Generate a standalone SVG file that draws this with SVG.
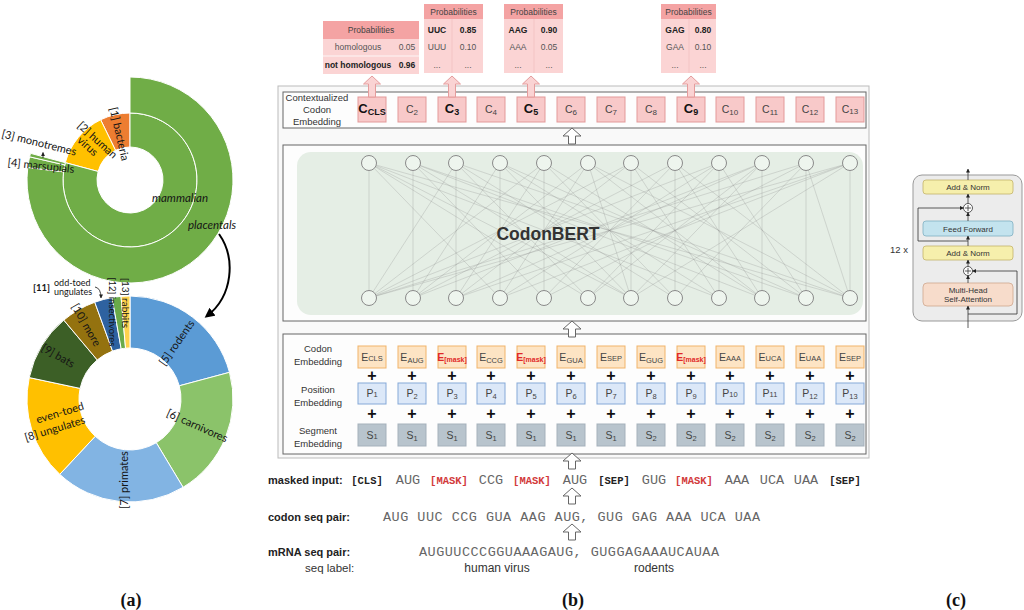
<svg xmlns="http://www.w3.org/2000/svg" width="1024" height="610" viewBox="0 0 1024 610">
<defs>
<style>
text{font-family:"Liberation Sans",Arial,sans-serif;fill:#333}
.ph{font-size:8.5px;text-anchor:middle;fill:#444}
.pr{font-size:8.5px;text-anchor:middle;fill:#555}
.pb{font-size:8.5px;text-anchor:middle;font-weight:bold;fill:#222}
.rl{font-size:9.5px;text-anchor:middle;fill:#333}
.cb{fill:#f8c9c9;stroke:#e39999;stroke-width:1}
.eb{fill:#fde4c4;stroke:#f1b46a;stroke-width:1}
.pbx{fill:#dce8f8;stroke:#86a9d8;stroke-width:1}
.sb{fill:#b8c4cd;stroke:#a5b1bb;stroke-width:1}
.bt{font-size:10.5px;text-anchor:middle;fill:#444}
.btb{font-size:13px;text-anchor:middle;fill:#111;font-weight:bold}
.em{font-size:10.5px;text-anchor:middle;fill:#e02828;font-weight:bold}
.plus{font-size:16px;font-weight:bold;text-anchor:middle;fill:#111}
.harrow{fill:#fff;stroke:#666;stroke-width:1}
.parrow{fill:#fad3d3;stroke:#e59c9c;stroke-width:1}
.frame{fill:#fdfdfd;stroke:#666;stroke-width:1}
.tok{font-family:"Liberation Mono","Courier New",monospace;font-size:10.5px;font-weight:bold;text-anchor:middle;fill:#222}
.tokm{font-family:"Liberation Mono","Courier New",monospace;font-size:10.5px;font-weight:bold;text-anchor:middle;fill:#d23a3a}
.cod{font-family:"Liberation Mono","Courier New",monospace;font-size:13.5px;text-anchor:middle;fill:#666}
.seq{font-family:"Liberation Mono","Courier New",monospace;font-size:13.5px;fill:#666}
.sl{font-size:11px;font-weight:bold;fill:#222}
.pa{font-family:Lato,"Open Sans",sans-serif;font-size:11px;fill:#151515;text-anchor:middle}
.cap{font-family:"Liberation Serif",serif;font-size:18px;font-weight:bold;text-anchor:middle;fill:#111}
.ct{font-size:8px;text-anchor:middle;fill:#333}
.net{stroke:#8c8c8c;stroke-width:0.6;opacity:0.45;fill:none}
.nd{fill:#eef5ee;stroke:#8a8a8a;stroke-width:1}
.seg{stroke:#fff;stroke-width:1}
</style>
<path id="ha" d="M0 0L9 8L3.5 8L3.5 16L-3.5 16L-3.5 8L-9 8Z"/>
<path id="pa" d="M0 0L8.5 8L3.5 8L3.5 21L-3.5 21L-3.5 8L-8.5 8Z"/>
<marker id="blk" viewBox="0 0 10 10" refX="7" refY="5" markerWidth="5" markerHeight="5" orient="auto"><path d="M0,0L10,5L0,10z" fill="#000"/></marker>
<marker id="sm" viewBox="0 0 10 10" refX="9" refY="5" markerWidth="4" markerHeight="4" markerUnits="userSpaceOnUse" orient="auto"><path d="M0,0L10,5L0,10z" fill="#222"/></marker>
</defs>
<rect width="1024" height="610" fill="#fff"/>

<!-- Panel (a) -->
<g id="panel-a-top">
<path class="seg" fill="#ed7d31" d="M130,113A67,67 0 0 0 100.63,119.78L115.53,150.34A33,33 0 0 1 130,147Z"/>
<path class="seg" fill="#ffc000" d="M100.63,119.78A67,67 0 0 0 65.28,162.66L98.13,171.46A33,33 0 0 1 115.53,150.34Z"/>
<path class="seg" fill="#70ad47" d="M130,113A67,67 0 1 1 65.28,162.66L98.13,171.46A33,33 0 1 0 130,147Z"/>
<path class="seg" fill="#70ad47" d="M130,77A103,103 0 1 1 27.77,167.45L63.5,171.83A67,67 0 1 0 130,113Z"/>
<path class="seg" fill="#70ad47" d="M27.77,167.45A103,103 0 0 1 29.64,156.82L64.72,164.92A67,67 0 0 0 63.5,171.83Z"/>
<path class="seg" fill="#70ad47" d="M29.64,156.82A103,103 0 0 1 30.51,153.34L65.28,162.66A67,67 0 0 0 64.72,164.92Z"/>
<text class="pa" transform="translate(119,134) rotate(77)" dy="3.5">[1] bacteria</text>
<text class="pa" transform="translate(92,143) rotate(42)"><tspan x="2" y="-2">[2] human</tspan><tspan x="-1" y="9">virus</tspan></text>
<text class="pa" transform="translate(39,143) rotate(14)" dy="3.5">[3] monotremes</text>
<path d="M43,158L43,152.5" stroke="#111" stroke-width="0.8" marker-end="url(#sm)"/>
<text class="pa" transform="translate(41,166) rotate(6)" dy="3.5">[4] marsupials</text>
<text class="pa" x="180" y="202" style="font-style:italic;font-size:11.5px">mammalian</text>
<text class="pa" x="212" y="229" style="font-style:italic;font-size:11.5px">placentals</text>
</g>
<g id="panel-a-bottom">
<path class="seg" fill="#5b9bd5" d="M130,296A103,103 0 0 1 229.49,372.34L179.26,385.8A51,51 0 0 0 130,348Z"/>
<path class="seg" fill="#8bc36a" d="M229.49,372.34A103,103 0 0 1 183.05,487.29L156.27,442.72A51,51 0 0 0 179.26,385.8Z"/>
<path class="seg" fill="#82b4e3" d="M183.05,487.29A103,103 0 0 1 59.75,474.33L95.22,436.3A51,51 0 0 0 156.27,442.72Z"/>
<path class="seg" fill="#ffc000" d="M59.75,474.33A103,103 0 0 1 29.26,377.59L80.12,388.4A51,51 0 0 0 95.22,436.3Z"/>
<path class="seg" fill="#3c5f26" d="M29.26,377.59A103,103 0 0 1 63.79,320.1L97.22,359.93A51,51 0 0 0 80.12,388.4Z"/>
<path class="seg" fill="#94720f" d="M63.79,320.1A103,103 0 0 1 94.77,302.21L112.56,351.08A51,51 0 0 0 97.22,359.93Z"/>
<path class="seg" fill="#2e62a0" d="M94.77,302.21A103,103 0 0 1 112.12,297.57L121.15,348.78A51,51 0 0 0 112.56,351.08Z"/>
<path class="seg" fill="#6aaa4a" d="M112.12,297.57A103,103 0 0 1 121.02,296.39L125.55,348.19A51,51 0 0 0 121.15,348.78Z"/>
<path class="seg" fill="#ffd24d" d="M121.02,296.39A103,103 0 0 1 130,296L130,348A51,51 0 0 0 125.55,348.19Z"/>
<text class="pa" transform="translate(177,343) rotate(-55)" dy="3.5">[5] rodents</text>
<text class="pa" transform="translate(197,426) rotate(24)" dy="3.5">[6] carnivores</text>
<text class="pa" transform="translate(124,480) rotate(-90)" dy="3.5">[7] primates</text>
<text class="pa" transform="translate(60,413) rotate(-17)" dy="3.5">even-toed</text>
<text class="pa" transform="translate(55,429) rotate(-17)" dy="3.5">[8] ungulates</text>
<text class="pa" transform="translate(58,356) rotate(30)" dy="3.5">[9] bats</text>
<text class="pa" transform="translate(86,325) rotate(60)" dy="3.5">[10] more</text>
<text class="pa" x="33" y="291" style="text-anchor:start;font-size:9.5px;font-weight:bold">[11]</text>
<text class="pa" x="54" y="286" style="text-anchor:start;font-size:9px">odd-toed</text>
<text class="pa" x="54" y="295" style="text-anchor:start;font-size:9px">ungulates</text>
<path d="M95,287Q101,288 101,298" fill="none" stroke="#111" stroke-width="0.8" marker-end="url(#sm)"/>
<text class="pa" transform="translate(112,312) rotate(90)" dy="3.3" style="font-size:9.5px">[12] insectivores</text>
<text class="pa" transform="translate(125,303) rotate(90)" dy="3.5" style="font-size:10px">[13] rabbits</text>
</g>
<g id="connector-a">
<path d="M219,234C236,258 233,296 207,316" fill="none" stroke="#000" stroke-width="2" marker-end="url(#blk)"/>
</g>

<!-- Panel (b) -->
<g id="outer-frame"><rect x="278" y="86" width="591" height="372" fill="#f9f9f9" stroke="#bbb" stroke-width="1"/></g>

<g id="prob-homology">
<rect x="323" y="21" width="96" height="53" fill="#fbd4d4"/>
<rect x="323" y="21" width="96" height="18" fill="#f4a3a3"/>
<line x1="323" y1="56" x2="419" y2="56" stroke="#fff" stroke-width="0.8"/>
<text class="ph" x="371" y="33">Probabilities</text>
<text class="pr" x="358" y="50">homologous</text><text class="pr" x="407" y="50">0.05</text>
<text class="pb" x="358" y="68">not homologous</text><text class="pb" x="407" y="68">0.96</text>
</g>
<g id="prob-c3">
<rect x="424" y="4" width="59" height="69" fill="#fbd4d4"/>
<rect x="424" y="4" width="59" height="15" fill="#f4a3a3"/>
<line x1="452" y1="19" x2="452" y2="73" stroke="#f2c0c0" stroke-width="0.8"/>
<text class="ph" x="453.5" y="15">Probabilities</text>
<text class="pb" x="437" y="33">UUC</text><text class="pb" x="468" y="33">0.85</text>
<text class="pr" x="437" y="50">UUU</text><text class="pr" x="468" y="50">0.10</text>
<text class="pr" x="437" y="68">...</text><text class="pr" x="468" y="68">...</text>
</g>
<g id="prob-c5">
<rect x="504" y="4" width="59" height="69" fill="#fbd4d4"/>
<rect x="504" y="4" width="59" height="15" fill="#f4a3a3"/>
<line x1="534" y1="19" x2="534" y2="73" stroke="#f2c0c0" stroke-width="0.8"/>
<text class="ph" x="533.5" y="15">Probabilities</text>
<text class="pb" x="518" y="33">AAG</text><text class="pb" x="549" y="33">0.90</text>
<text class="pr" x="518" y="50">AAA</text><text class="pr" x="549" y="50">0.05</text>
<text class="pr" x="518" y="68">...</text><text class="pr" x="549" y="68">...</text>
</g>
<g id="prob-c9">
<rect x="661" y="4" width="55" height="69" fill="#fbd4d4"/>
<rect x="661" y="4" width="55" height="15" fill="#f4a3a3"/>
<line x1="689" y1="19" x2="689" y2="73" stroke="#f2c0c0" stroke-width="0.8"/>
<text class="ph" x="688.5" y="15">Probabilities</text>
<text class="pb" x="675" y="33">GAG</text><text class="pb" x="703" y="33">0.80</text>
<text class="pr" x="675" y="50">GAA</text><text class="pr" x="703" y="50">0.10</text>
<text class="pr" x="675" y="68">...</text><text class="pr" x="703" y="68">...</text>
</g>

<g id="ctx-row">
<rect class="frame" x="283" y="92" width="583" height="36"/>
<text class="rl"><tspan x="317" y="101">Contextualized</tspan><tspan x="317" y="113">Codon</tspan><tspan x="317" y="125">Embedding</tspan></text>
<rect class="cb" x="358" y="97" width="28" height="25"/>
<rect class="cb" x="398" y="97" width="28" height="25"/>
<rect class="cb" x="438" y="97" width="28" height="25"/>
<rect class="cb" x="477" y="97" width="28" height="25"/>
<rect class="cb" x="517" y="97" width="28" height="25"/>
<rect class="cb" x="557" y="97" width="28" height="25"/>
<rect class="cb" x="597" y="97" width="28" height="25"/>
<rect class="cb" x="637" y="97" width="28" height="25"/>
<rect class="cb" x="677" y="97" width="28" height="25"/>
<rect class="cb" x="716" y="97" width="28" height="25"/>
<rect class="cb" x="756" y="97" width="28" height="25"/>
<rect class="cb" x="796" y="97" width="28" height="25"/>
<rect class="cb" x="836" y="97" width="28" height="25"/>
<text class="btb" x="372" y="113">C<tspan font-size="9" dy="2">CLS</tspan></text>
<text class="bt" x="412" y="113">C<tspan font-size="8" dy="2">2</tspan></text>
<text class="btb" x="452" y="113">C<tspan font-size="9" dy="2">3</tspan></text>
<text class="bt" x="491" y="113">C<tspan font-size="8" dy="2">4</tspan></text>
<text class="btb" x="531" y="113">C<tspan font-size="9" dy="2">5</tspan></text>
<text class="bt" x="571" y="113">C<tspan font-size="8" dy="2">6</tspan></text>
<text class="bt" x="611" y="113">C<tspan font-size="8" dy="2">7</tspan></text>
<text class="bt" x="651" y="113">C<tspan font-size="8" dy="2">8</tspan></text>
<text class="btb" x="691" y="113">C<tspan font-size="9" dy="2">9</tspan></text>
<text class="bt" x="730" y="113">C<tspan font-size="8" dy="2">10</tspan></text>
<text class="bt" x="770" y="113">C<tspan font-size="8" dy="2">11</tspan></text>
<text class="bt" x="810" y="113">C<tspan font-size="8" dy="2">12</tspan></text>
<text class="bt" x="850" y="113">C<tspan font-size="8" dy="1">13</tspan></text>
</g>

<g id="codonbert">
<rect class="frame" x="283" y="145" width="583" height="176"/>
<rect x="297" y="152" width="566" height="163" rx="14" fill="#e5eee5"/>
<path class="net" d="M369 163L369 298M369 163L500 298M369 163L588 298M369 163L631 298M369 163L719 298M369 163L850 298M413 163L413 298M413 163L544 298M413 163L631 298M413 163L762 298M413 163L806 298M456 163L369 298M456 163L456 298M456 163L588 298M456 163L675 298M456 163L850 298M500 163L413 298M500 163L500 298M500 163L631 298M500 163L719 298M500 163L806 298M544 163L369 298M544 163L456 298M544 163L544 298M544 163L675 298M544 163L762 298M588 163L413 298M588 163L500 298M588 163L631 298M588 163L762 298M588 163L850 298M631 163L369 298M631 163L456 298M631 163L631 298M631 163L719 298M631 163L806 298M675 163L413 298M675 163L544 298M675 163L675 298M675 163L762 298M675 163L850 298M719 163L369 298M719 163L500 298M719 163L588 298M719 163L719 298M719 163L806 298M762 163L413 298M762 163L456 298M762 163L588 298M762 163L631 298M762 163L762 298M806 163L369 298M806 163L544 298M806 163L675 298M806 163L806 298M806 163L850 298M850 163L369 298M850 163L456 298M850 163L500 298M850 163L631 298M850 163L850 298"/>
<g>
<circle class="nd" cx="369" cy="163" r="7.5"/><circle class="nd" cx="413" cy="163" r="7.5"/><circle class="nd" cx="456" cy="163" r="7.5"/><circle class="nd" cx="500" cy="163" r="7.5"/><circle class="nd" cx="544" cy="163" r="7.5"/><circle class="nd" cx="588" cy="163" r="7.5"/><circle class="nd" cx="631" cy="163" r="7.5"/><circle class="nd" cx="675" cy="163" r="7.5"/><circle class="nd" cx="719" cy="163" r="7.5"/><circle class="nd" cx="762" cy="163" r="7.5"/><circle class="nd" cx="806" cy="163" r="7.5"/><circle class="nd" cx="850" cy="163" r="7.5"/>
<circle class="nd" cx="369" cy="298" r="7.5"/><circle class="nd" cx="413" cy="298" r="7.5"/><circle class="nd" cx="456" cy="298" r="7.5"/><circle class="nd" cx="500" cy="298" r="7.5"/><circle class="nd" cx="544" cy="298" r="7.5"/><circle class="nd" cx="588" cy="298" r="7.5"/><circle class="nd" cx="631" cy="298" r="7.5"/><circle class="nd" cx="675" cy="298" r="7.5"/><circle class="nd" cx="719" cy="298" r="7.5"/><circle class="nd" cx="762" cy="298" r="7.5"/><circle class="nd" cx="806" cy="298" r="7.5"/><circle class="nd" cx="850" cy="298" r="7.5"/>
</g>
<text x="548" y="240" font-size="17.5" font-weight="bold" text-anchor="middle" fill="#111">CodonBERT</text>
</g>

<g id="embeddings">
<rect class="frame" x="283" y="334" width="583" height="120"/>
<text class="rl"><tspan x="318" y="352">Codon</tspan><tspan x="318" y="365">Embedding</tspan></text>
<text class="rl"><tspan x="318" y="393">Position</tspan><tspan x="318" y="406">Embedding</tspan></text>
<text class="rl"><tspan x="318" y="434">Segment</tspan><tspan x="318" y="447">Embedding</tspan></text>
<g>
<rect class="eb" x="358" y="346" width="28" height="22"/><rect class="eb" x="398" y="346" width="28" height="22"/><rect class="eb" x="438" y="346" width="28" height="22"/><rect class="eb" x="477" y="346" width="28" height="22"/><rect class="eb" x="517" y="346" width="28" height="22"/><rect class="eb" x="557" y="346" width="28" height="22"/><rect class="eb" x="597" y="346" width="28" height="22"/><rect class="eb" x="637" y="346" width="28" height="22"/><rect class="eb" x="677" y="346" width="28" height="22"/><rect class="eb" x="716" y="346" width="28" height="22"/><rect class="eb" x="756" y="346" width="28" height="22"/><rect class="eb" x="796" y="346" width="28" height="22"/><rect class="eb" x="836" y="346" width="28" height="22"/>
</g>
<text class="bt" x="372" y="361">E<tspan font-size="7.5">CLS</tspan></text>
<text class="bt" x="412" y="361">E<tspan font-size="7.5" dy="1.5">AUG</tspan></text>
<text class="em" x="452" y="361">E<tspan font-size="7" dy="1">[mask]</tspan></text>
<text class="bt" x="491" y="361">E<tspan font-size="7.5" dy="1.5">CCG</tspan></text>
<text class="em" x="531" y="361">E<tspan font-size="7" dy="1">[mask]</tspan></text>
<text class="bt" x="571" y="361">E<tspan font-size="7.5" dy="1.5">GUA</tspan></text>
<text class="bt" x="611" y="361">E<tspan font-size="7.5">SEP</tspan></text>
<text class="bt" x="651" y="361">E<tspan font-size="7.5" dy="1.5">GUG</tspan></text>
<text class="em" x="691" y="361">E<tspan font-size="7" dy="1">[mask]</tspan></text>
<text class="bt" x="730" y="361">E<tspan font-size="7.5">AAA</tspan></text>
<text class="bt" x="770" y="361">E<tspan font-size="7.5">UCA</tspan></text>
<text class="bt" x="810" y="361">E<tspan font-size="7.5">UAA</tspan></text>
<text class="bt" x="850" y="361">E<tspan font-size="7.5">SEP</tspan></text>
<g>
<text class="plus" x="372" y="381">+</text><text class="plus" x="412" y="381">+</text><text class="plus" x="452" y="381">+</text><text class="plus" x="491" y="381">+</text><text class="plus" x="531" y="381">+</text><text class="plus" x="571" y="381">+</text><text class="plus" x="611" y="381">+</text><text class="plus" x="651" y="381">+</text><text class="plus" x="691" y="381">+</text><text class="plus" x="730" y="381">+</text><text class="plus" x="770" y="381">+</text><text class="plus" x="810" y="381">+</text><text class="plus" x="850" y="381">+</text>
</g>
<g>
<rect class="pbx" x="358" y="383" width="28" height="21"/><rect class="pbx" x="398" y="383" width="28" height="21"/><rect class="pbx" x="438" y="383" width="28" height="21"/><rect class="pbx" x="477" y="383" width="28" height="21"/><rect class="pbx" x="517" y="383" width="28" height="21"/><rect class="pbx" x="557" y="383" width="28" height="21"/><rect class="pbx" x="597" y="383" width="28" height="21"/><rect class="pbx" x="637" y="383" width="28" height="21"/><rect class="pbx" x="677" y="383" width="28" height="21"/><rect class="pbx" x="716" y="383" width="28" height="21"/><rect class="pbx" x="756" y="383" width="28" height="21"/><rect class="pbx" x="796" y="383" width="28" height="21"/><rect class="pbx" x="836" y="383" width="28" height="21"/>
</g>
<text class="bt" x="372" y="397">P<tspan font-size="7.5">1</tspan></text>
<text class="bt" x="412" y="397">P<tspan font-size="7.5" dy="1.5">2</tspan></text>
<text class="bt" x="452" y="397">P<tspan font-size="7.5" dy="1.5">3</tspan></text>
<text class="bt" x="491" y="397">P<tspan font-size="7.5" dy="1.5">4</tspan></text>
<text class="bt" x="531" y="397">P<tspan font-size="7.5" dy="1.5">5</tspan></text>
<text class="bt" x="571" y="397">P<tspan font-size="7.5" dy="1.5">6</tspan></text>
<text class="bt" x="611" y="397">P<tspan font-size="7.5" dy="1.5">7</tspan></text>
<text class="bt" x="651" y="397">P<tspan font-size="7.5" dy="1.5">8</tspan></text>
<text class="bt" x="691" y="397">P<tspan font-size="7.5" dy="1.5">9</tspan></text>
<text class="bt" x="730" y="397">P<tspan font-size="7.5">10</tspan></text>
<text class="bt" x="770" y="397">P<tspan font-size="7.5">11</tspan></text>
<text class="bt" x="810" y="397">P<tspan font-size="7.5" dy="1.5">12</tspan></text>
<text class="bt" x="850" y="397">P<tspan font-size="7.5" dy="1.5">13</tspan></text>
<g>
<text class="plus" x="372" y="419">+</text><text class="plus" x="412" y="419">+</text><text class="plus" x="452" y="419">+</text><text class="plus" x="491" y="419">+</text><text class="plus" x="531" y="419">+</text><text class="plus" x="571" y="419">+</text><text class="plus" x="611" y="419">+</text><text class="plus" x="651" y="419">+</text><text class="plus" x="691" y="419">+</text><text class="plus" x="730" y="419">+</text><text class="plus" x="770" y="419">+</text><text class="plus" x="810" y="419">+</text><text class="plus" x="850" y="419">+</text>
</g>
<g>
<rect class="sb" x="358" y="424" width="28" height="22"/><rect class="sb" x="398" y="424" width="28" height="22"/><rect class="sb" x="438" y="424" width="28" height="22"/><rect class="sb" x="477" y="424" width="28" height="22"/><rect class="sb" x="517" y="424" width="28" height="22"/><rect class="sb" x="557" y="424" width="28" height="22"/><rect class="sb" x="597" y="424" width="28" height="22"/><rect class="sb" x="637" y="424" width="28" height="22"/><rect class="sb" x="677" y="424" width="28" height="22"/><rect class="sb" x="716" y="424" width="28" height="22"/><rect class="sb" x="756" y="424" width="28" height="22"/><rect class="sb" x="796" y="424" width="28" height="22"/><rect class="sb" x="836" y="424" width="28" height="22"/>
</g>
<text class="bt" x="372" y="439">S<tspan font-size="7.5">1</tspan></text>
<text class="bt" x="412" y="439">S<tspan font-size="7.5" dy="1.5">1</tspan></text>
<text class="bt" x="452" y="439">S<tspan font-size="7.5" dy="1.5">1</tspan></text>
<text class="bt" x="491" y="439">S<tspan font-size="7.5" dy="1.5">1</tspan></text>
<text class="bt" x="531" y="439">S<tspan font-size="7.5" dy="1.5">1</tspan></text>
<text class="bt" x="571" y="439">S<tspan font-size="7.5" dy="1.5">1</tspan></text>
<text class="bt" x="611" y="439">S<tspan font-size="7.5" dy="1.5">1</tspan></text>
<text class="bt" x="651" y="439">S<tspan font-size="7.5" dy="1.5">2</tspan></text>
<text class="bt" x="691" y="439">S<tspan font-size="7.5" dy="1.5">2</tspan></text>
<text class="bt" x="730" y="439">S<tspan font-size="7.5" dy="1.5">2</tspan></text>
<text class="bt" x="770" y="439">S<tspan font-size="7.5" dy="1.5">2</tspan></text>
<text class="bt" x="810" y="439">S<tspan font-size="7.5" dy="1.5">2</tspan></text>
<text class="bt" x="850" y="439">S<tspan font-size="7.5" dy="1.5">2</tspan></text>
</g>

<g id="connectors">
<use href="#pa" class="parrow" x="372" y="76"/>
<use href="#pa" class="parrow" x="452" y="76"/>
<use href="#pa" class="parrow" x="531" y="76"/>
<use href="#pa" class="parrow" x="691" y="76"/>
<use href="#ha" class="harrow" x="572" y="128"/>
<use href="#ha" class="harrow" x="572" y="321"/>
<use href="#ha" class="harrow" x="572" y="453"/>
<use href="#ha" class="harrow" x="572" y="488"/>
<use href="#ha" class="harrow" x="572" y="524"/>
</g>

<g id="masked-input">
<text class="sl" x="268" y="484">masked input:</text>
<text class="tok" x="367" y="484">[CLS]</text>
<text class="cod" x="408" y="484">AUG</text>
<text class="tokm" x="449" y="484">[MASK]</text>
<text class="cod" x="491" y="484">CCG</text>
<text class="tokm" x="532" y="484">[MASK]</text>
<text class="cod" x="575" y="484">AUG</text>
<text class="tok" x="614" y="484">[SEP]</text>
<text class="cod" x="654" y="484">GUG</text>
<text class="tokm" x="694" y="484">[MASK]</text>
<text class="cod" x="737" y="484">AAA</text>
<text class="cod" x="772" y="484">UCA</text>
<text class="cod" x="806" y="484">UAA</text>
<text class="tok" x="845" y="484">[SEP]</text>
</g>
<g id="codon-seq">
<text class="sl" x="268" y="521">codon seq pair:</text>
<text class="seq" x="383" y="521" textLength="377" lengthAdjust="spacing">AUG UUC CCG GUA AAG AUG, GUG GAG AAA UCA UAA</text>
</g>
<g id="mrna-seq">
<text class="sl" x="268" y="556">mRNA seq pair:</text>
<text class="seq" x="419" y="556" textLength="300" lengthAdjust="spacing">AUGUUCCCGGUAAAGAUG, GUGGAGAAAUCAUAA</text>
</g>
<g id="seq-label">
<text x="305" y="572" font-size="11.5" fill="#222">seq label:</text>
<text x="497" y="572" font-size="12" fill="#222" text-anchor="middle">human virus</text>
<text x="654" y="572" font-size="12" fill="#222" text-anchor="middle">rodents</text>
</g>

<!-- Panel (c) -->
<g id="panel-c">
<rect x="913" y="175" width="109" height="146" rx="9" fill="#ececec" stroke="#999" stroke-width="1"/>
<text x="908" y="253" font-family="Liberation Serif,serif" font-size="9.5" text-anchor="end" fill="#333">12 x</text>
<g id="c-addnorm1"><rect x="923" y="180" width="90" height="14" rx="3" fill="#f6efac" stroke="#c4b46a" stroke-width="0.8"/><text class="ct" x="968" y="190">Add &amp; Norm</text></g>
<g id="c-ff"><rect x="923" y="221" width="90" height="15" rx="3" fill="#c3e3ee" stroke="#7fb0c2" stroke-width="0.8"/><text class="ct" x="968" y="231.5">Feed Forward</text></g>
<g id="c-addnorm2"><rect x="923" y="246" width="90" height="14" rx="3" fill="#f6efac" stroke="#c4b46a" stroke-width="0.8"/><text class="ct" x="968" y="256">Add &amp; Norm</text></g>
<g id="c-mha"><rect x="923" y="283" width="90" height="23" rx="4" fill="#f7dccb" stroke="#cfa78e" stroke-width="0.8"/><text class="ct"><tspan x="968" y="292.5">Multi-Head</tspan><tspan x="968" y="302">Self-Attention</tspan></text></g>
<g id="c-plus1"><circle cx="968" cy="208" r="4.5" fill="#fff" stroke="#333" stroke-width="0.8"/><path d="M965 208H971M968 205V211" stroke="#333" stroke-width="0.8"/></g>
<g id="c-plus2"><circle cx="968" cy="271" r="4.5" fill="#fff" stroke="#333" stroke-width="0.8"/><path d="M965 271H971M968 268V274" stroke="#333" stroke-width="0.8"/></g>
<g id="c-connectors" fill="none" stroke="#333" stroke-width="0.8">
<path d="M968 328V306" marker-end="url(#sm)"/>
<path d="M968 283V275.5" marker-end="url(#sm)"/>
<path d="M968 266.5V260" marker-end="url(#sm)"/>
<path d="M968 246V236" marker-end="url(#sm)"/>
<path d="M968 221V212.5" marker-end="url(#sm)"/>
<path d="M968 203.5V194" marker-end="url(#sm)"/>
<path d="M968 180V169" marker-end="url(#sm)"/>
<path d="M968 314H1017V271H972.5" marker-end="url(#sm)"/>
<path d="M968 241H918V208H963.5" marker-end="url(#sm)"/>
</g>
</g>

<g id="captions">
<text class="cap" x="131" y="606">(a)</text>
<text class="cap" x="573" y="606">(b)</text>
<text class="cap" x="956" y="606">(c)</text>
</g>
</svg>
